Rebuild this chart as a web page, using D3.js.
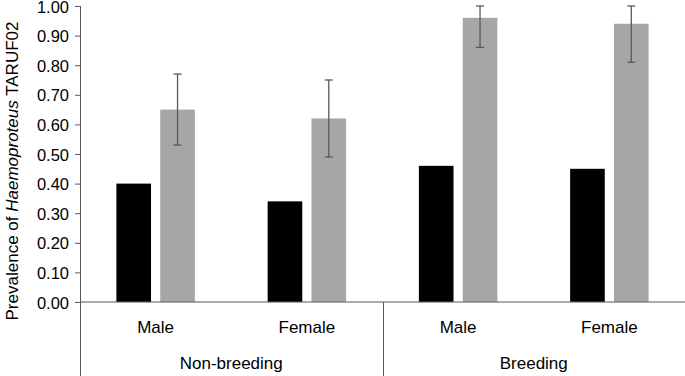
<!DOCTYPE html>
<html>
<head>
<meta charset="utf-8">
<script src="https://cdn.jsdelivr.net/npm/d3@7"></script>
<style>
  body { margin: 0; background: #fff; }
  svg { display: block; font-family: "Liberation Sans", Arial, sans-serif; }
</style>
</head>
<body>
<div id="chart"></div>
<script>
var seasons = ["Non-breeding", "Breeding"];
var sexes = ["Male", "Female"];
// values in order: Non-breeding Male, Non-breeding Female, Breeding Male, Breeding Female
var blackValues = [0.40, 0.34, 0.46, 0.45];
var grayValues = [0.65, 0.62, 0.96, 0.94];
var grayLow = [0.53, 0.49, 0.86, 0.81];
var grayHigh = [0.77, 0.75, 1.00, 1.00];
var yTicks = [0, 0.1, 0.2, 0.3, 0.4, 0.5, 0.6, 0.7, 0.8, 0.9, 1.0];

var width = 685, height = 376;
var margin = {top: 6, right: 0, bottom: 74, left: 80};
var innerW = width - margin.left - margin.right,
    innerH = height - margin.top - margin.bottom;

var svg = d3.select("#chart").append("svg")
    .attr("width", width)
    .attr("height", height);

var g = svg.append("g")
    .attr("transform", "translate(" + margin.left + "," + margin.top + ")");

var y = d3.scaleLinear().domain([0, 1]).range([innerH, 0]);

var xSeason = d3.scaleBand().domain(seasons).range([0, innerW]);
var xSex = d3.scaleBand().domain(sexes).range([0, xSeason.bandwidth()]);
var xBar = d3.scaleBand().domain(["black", "gray"])
    .range([0, xSex.bandwidth()])
    .paddingInner(0.21)
    .paddingOuter(0.83);

var rows = [];
seasons.forEach(function(s, i) {
  sexes.forEach(function(x, j) {
    var k = i * 2 + j;
    rows.push({season: s, sex: x, black: blackValues[k], gray: grayValues[k], lo: grayLow[k], hi: grayHigh[k]});
  });
});

function catX(d) { return xSeason(d.season) + xSex(d.sex); }

// bars
g.selectAll(".bar-black")
  .data(rows)
  .enter().append("rect")
    .attr("x", function(d) { return catX(d) + xBar("black"); })
    .attr("y", function(d) { return y(d.black); })
    .attr("width", xBar.bandwidth())
    .attr("height", function(d) { return innerH - y(d.black); })
    .attr("fill", "#000");

g.selectAll(".bar-gray")
  .data(rows)
  .enter().append("rect")
    .attr("x", function(d) { return catX(d) + xBar("gray"); })
    .attr("y", function(d) { return y(d.gray); })
    .attr("width", xBar.bandwidth())
    .attr("height", function(d) { return innerH - y(d.gray); })
    .attr("fill", "#a6a6a6");

// error bars
var err = g.selectAll(".err")
  .data(rows)
  .enter().append("g")
    .attr("transform", function(d) { return "translate(" + (catX(d) + xBar("gray") + xBar.bandwidth() / 2) + ",0)"; })
    .attr("stroke", "#595959")
    .attr("stroke-width", 1.3);

err.append("line")
    .attr("y1", function(d) { return y(d.lo); })
    .attr("y2", function(d) { return y(d.hi); });
err.append("line")
    .attr("x1", -4).attr("x2", 4)
    .attr("y1", function(d) { return y(d.hi); })
    .attr("y2", function(d) { return y(d.hi); });
err.append("line")
    .attr("x1", -4).attr("x2", 4)
    .attr("y1", function(d) { return y(d.lo); })
    .attr("y2", function(d) { return y(d.lo); });

// y axis
var yAxis = g.append("g")
    .call(d3.axisLeft(y).tickValues(yTicks).tickFormat(d3.format(".2f")).tickSizeOuter(0).tickSize(5));
yAxis.select(".domain").remove();
yAxis.selectAll("line").attr("stroke", "#595959");
yAxis.selectAll("text")
    .attr("font-size", 16.5)
    .attr("font-family", "Liberation Sans, Arial, sans-serif")
    .attr("fill", "#000")
    .attr("dy", "0.37em")
    .attr("x", -11);

// axis lines
var axisColor = "#595959";
g.append("line")
    .attr("x1", 0.5).attr("x2", 0.5)
    .attr("y1", 0).attr("y2", height - margin.top)
    .attr("stroke", axisColor);
g.append("line")
    .attr("x1", 0).attr("x2", innerW)
    .attr("y1", innerH).attr("y2", innerH)
    .attr("stroke", axisColor);
g.selectAll(".sep")
  .data(seasons.slice(1))
  .enter().append("line")
    .attr("x1", function(d) { return Math.round(xSeason(d)) + 0.5; })
    .attr("x2", function(d) { return Math.round(xSeason(d)) + 0.5; })
    .attr("y1", innerH).attr("y2", height - margin.top)
    .attr("stroke", axisColor);

// category labels
g.selectAll(".sex-label")
  .data(rows)
  .enter().append("text")
    .attr("x", function(d) { return catX(d) + xSex.bandwidth() / 2; })
    .attr("y", innerH + 31)
    .attr("text-anchor", "middle")
    .attr("font-size", 17)
    .text(function(d) { return d.sex; });

g.selectAll(".season-label")
  .data(seasons)
  .enter().append("text")
    .attr("x", function(d) { return xSeason(d) + xSeason.bandwidth() / 2; })
    .attr("y", innerH + 67)
    .attr("text-anchor", "middle")
    .attr("font-size", 17)
    .text(function(d) { return d; });

// y title
var title = svg.append("text")
    .attr("transform", "translate(18," + 171 + ") rotate(-90)")
    .attr("text-anchor", "middle")
    .attr("font-size", 17);
title.append("tspan").text("Prevalence of ");
title.append("tspan").attr("font-style", "italic").text("Haemoproteus");
title.append("tspan").text(" TARUF02");
</script>
</body>
</html>
